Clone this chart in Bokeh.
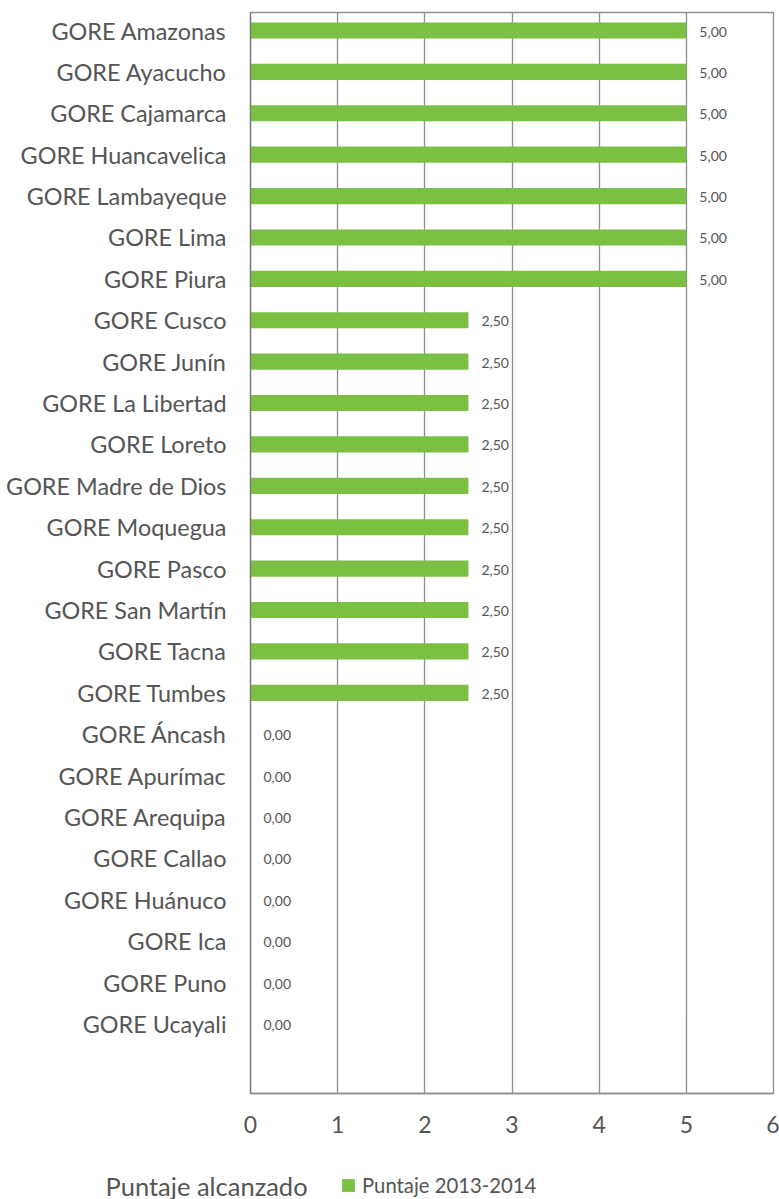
from bokeh.plotting import figure
from bokeh.layouts import column
from bokeh.models import Range1d, FixedTicker, Label, Legend, LegendItem, ColumnDataSource
from bokeh.core.properties import value
from bokeh.embed import file_html
from bokeh.resources import INLINE

categories = ["GORE Amazonas", "GORE Ayacucho", "GORE Cajamarca", "GORE Huancavelica",
              "GORE Lambayeque", "GORE Lima", "GORE Piura", "GORE Cusco", "GORE Junín",
              "GORE La Libertad", "GORE Loreto", "GORE Madre de Dios", "GORE Moquegua",
              "GORE Pasco", "GORE San Martín", "GORE Tacna", "GORE Tumbes", "GORE Áncash",
              "GORE Apurímac", "GORE Arequipa", "GORE Callao", "GORE Huánuco", "GORE Ica",
              "GORE Puno", "GORE Ucayali"]
puntaje = [5.00, 5.00, 5.00, 5.00, 5.00, 5.00, 5.00,
           2.50, 2.50, 2.50, 2.50, 2.50, 2.50, 2.50, 2.50, 2.50, 2.50,
           0.00, 0.00, 0.00, 0.00, 0.00, 0.00, 0.00, 0.00]
x_ticks = [0, 1, 2, 3, 4, 5, 6]
series_name = "Puntaje 2013-2014"
axis_title = "Puntaje alcanzado"

FONT = "Lato"
GREEN = "#7bc043"
TXT = "#555555"
GRID = "#8f8f8f"

pos = list(range(len(categories)))
src = ColumnDataSource(dict(
    y=pos, v=puntaje, cat=categories,
    lbl=[f"{v:.2f}".replace(".", ",") for v in puntaje],
))

p = figure(width=779, height=1150, output_backend="svg", toolbar_location=None,
           x_range=Range1d(0, 6), y_range=Range1d(25.68, -0.435),
           min_border_left=250, min_border_right=6, min_border_top=12, min_border_bottom=57)
p.frame_align = False

bars = p.hbar(y="y", right="v", left=0, height=0.39, source=src,
              fill_color=GREEN, line_color=None)

p.text(x="v", y="y", text="lbl", source=src, x_offset=13, y_offset=1,
       text_baseline="middle", text_align="left",
       text_font=value(FONT), text_font_size="14px", text_color=TXT)

p.outline_line_color = GRID
p.outline_line_width = 1.3
p.ygrid.visible = False
p.xgrid.grid_line_color = GRID
p.xgrid.grid_line_width = 1.3
p.background_fill_color = "white"
p.border_fill_color = "white"

p.xaxis.ticker = FixedTicker(ticks=x_ticks)
p.xaxis.major_tick_line_color = None
p.xaxis.minor_tick_line_color = None
p.xaxis.axis_line_color = GRID
p.xaxis.axis_line_width = 1.3
p.xaxis.major_label_standoff = 16
p.xaxis.major_label_text_font = FONT
p.xaxis.major_label_text_font_size = "23px"
p.xaxis.major_label_text_color = TXT

p.yaxis.ticker = FixedTicker(ticks=pos)
p.yaxis.major_label_overrides = {i: c for i, c in zip(pos, categories)}
p.yaxis.major_tick_line_color = None
p.yaxis.minor_tick_line_color = None
p.yaxis.axis_line_color = "#777777"
p.yaxis.axis_line_width = 1.3
p.yaxis.major_label_standoff = 18
p.yaxis.major_label_text_font = FONT
p.yaxis.major_label_text_font_size = "23.4px"
p.yaxis.major_label_text_color = TXT

# bottom strip: axis title and legend
q = figure(width=779, height=49, output_backend="svg", toolbar_location=None,
           x_range=Range1d(0, 779), y_range=Range1d(0, 49),
           min_border=0, x_axis_type=None, y_axis_type=None)
q.frame_align = False
q.outline_line_color = None
q.grid.visible = False
# series swatch for the legend (placed outside the visible range of this strip)
swatch = q.hbar(y=[-1000], right=[puntaje[0]], left=0, height=1,
                fill_color=GREEN, line_color=None)

q.add_layout(Label(x=105, y=14, text=axis_title,
                   text_font=FONT, text_font_size="25.5px", text_color=TXT,
                   text_baseline="middle"))

legend = Legend(items=[LegendItem(label=series_name, renderers=[swatch])],
                location=(340, 2), padding=0, margin=0, border_line_color=None,
                background_fill_alpha=0, glyph_width=16, glyph_height=16,
                label_standoff=6, label_text_font=FONT, label_text_font_size="20.3px",
                label_text_color=TXT)
q.add_layout(legend)

layout = column(p, q, spacing=0)
open("out.html", "w").write(file_html(layout, INLINE))
